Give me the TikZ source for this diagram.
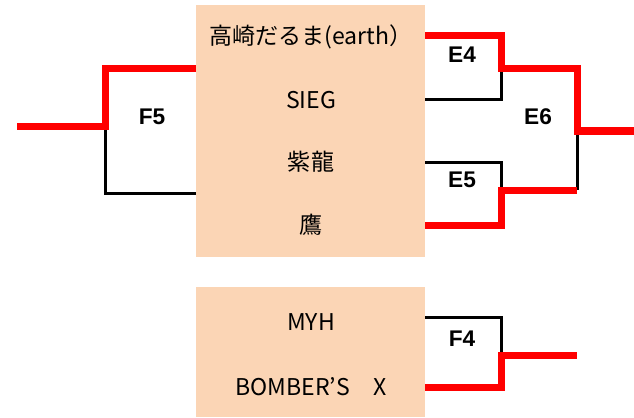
\documentclass[tikz,border=0pt]{standalone}
\usepackage{fontspec}
\newfontfamily\jpfont{Noto Sans CJK JP}
\newfontfamily\lblfont{Liberation Sans}
\definecolor{peach}{HTML}{FBD5B5}
\begin{document}
\begin{tikzpicture}
[x=.75pt, y=-.75pt, box/.style={fill=peach,inner sep=0pt,minimum width=171.75pt},
win/.style={red,line width=5.25pt}, lose/.style={line width=2.25pt},
team/.style={font=\jpfont\fontsize{17.3}{19}\selectfont}, lbl/.style={font=\lblfont\bfseries\fontsize{17}{19}\selectfont}]
\useasboundingbox (0,0) rectangle (634,417);
\node(top) at (310.5,131)[box,minimum height=189pt]{};\node(bot) at (310.5,352)[box,minimum height=97.5pt]{};
\node(t1) at (311,37)[team]{高崎だるま(earth）};\node(t2) at (311,100)[team]{SIEG};
\node(t3) at (311,162)[team]{紫龍};\node(t4) at (311,225)[team]{鷹};
\node(t5) at (311,322)[team]{MYH};\node(t6) at (311,387)[team]{BOMBER’S　X};
\coordinate(a1) at (196,69);\coordinate(a2) at (196,193);\coordinate(f5) at (105,127);\coordinate(f5o) at (17,127);
\coordinate(b1) at (425,36);\coordinate(b2) at (425,100);\coordinate(e4) at (501,69);
\coordinate(c1) at (425,162);\coordinate(c2) at (425,225);\coordinate(e5) at (501,190);
\coordinate(e6) at (577,131);\coordinate(e6b) at (577,190);\coordinate(e6o) at (634,131);
\coordinate(d1) at (425,317);\coordinate(d2) at (425,387);\coordinate(f4) at (501,355);\coordinate(f4o) at (577,355);
\draw[lose](a2)-|(f5);\draw[lose](b2)-|(e4);\draw[lose](c1)-|(e5);\draw[lose](e6b)--(e6);\draw[lose](d1)-|(f4);
\draw[win](a1)-|(f5)--(f5o);\draw[win](b1)-|(e4)-|(e6)--(e6o);\draw[win](c2)-|(e5)--(e6b);\draw[win](d2)-|(f4)--(f4o);
\node(l1) at (152,117)[lbl]{F5};\node(l2) at (462,55)[lbl]{E4};\node(l3) at (462,180)[lbl]{E5};
\node(l4) at (538,117)[lbl]{E6};\node(l5) at (462,339)[lbl]{F4};
\end{tikzpicture}
\end{document}
